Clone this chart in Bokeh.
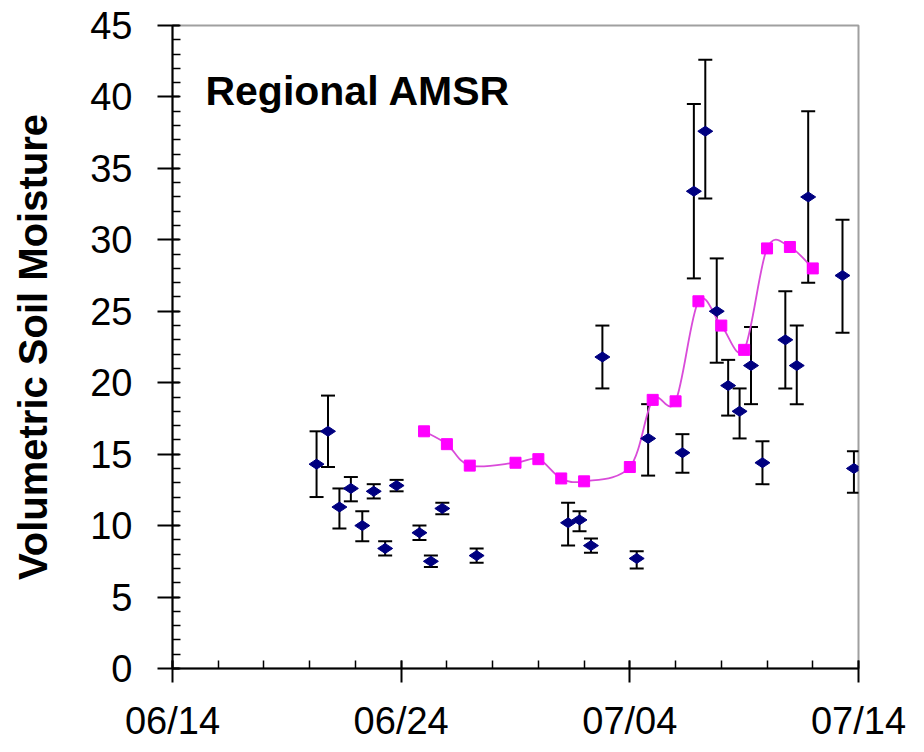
import numpy as np
import pandas as pd
from bokeh.plotting import figure
from bokeh.models import (ColumnDataSource, Whisker, TeeHead, Range1d, FixedTicker,
                          SingleIntervalTicker, DatetimeTickFormatter, Label)
from bokeh.embed import file_html
from bokeh.resources import INLINE

# ---------------- data ----------------
start_date = "2002-06-14"
end_date = "2002-07-14"
x_tick_dates = ["2002-06-14", "2002-06-24", "2002-07-04", "2002-07-14"]
minor_tick_step_days = 2

# point observations (days after 06/14), soil moisture, error bar low/high
point_days = [6.3, 6.8, 7.3, 7.8, 8.3, 8.8, 9.3, 9.8, 10.8, 11.3, 11.8, 13.3,
              17.3, 17.8, 18.3, 18.8, 20.3, 20.8, 22.3, 22.8, 23.3, 23.8,
              24.3, 24.8, 25.3, 25.8, 26.8, 27.3, 27.8, 29.3, 29.8]
point_sm = [14.3, 16.6, 11.3, 12.6, 10.0, 12.4, 8.4, 12.8, 9.5, 7.5, 11.2, 7.9,
            10.2, 10.4, 8.6, 21.8, 7.7, 16.1, 15.1, 33.4, 37.6, 25.0,
            19.8, 18.0, 21.2, 14.4, 23.0, 21.2, 33.0, 27.5, 14.0]
point_low = [12.0, 14.1, 9.8, 11.7, 8.9, 11.9, 7.9, 12.4, 9.0, 7.1, 10.8, 7.4,
             8.6, 9.6, 8.1, 19.6, 7.0, 13.5, 13.7, 27.3, 32.9, 21.4,
             17.7, 16.1, 18.5, 12.9, 19.6, 18.5, 27.0, 23.5, 12.3]
point_high = [16.6, 19.1, 12.6, 13.4, 11.0, 12.9, 8.9, 13.2, 10.0, 7.9, 11.6, 8.4,
              11.6, 11.0, 9.1, 24.0, 8.2, 18.5, 16.4, 39.5, 42.6, 28.7,
              21.6, 19.6, 23.9, 15.9, 26.4, 24.0, 39.0, 31.4, 15.2]

# regional AMSR series
regional_days = [11, 12, 13, 15, 16, 17, 18, 20, 21, 22, 23, 24, 25, 26, 27, 28]
regional_sm = [16.6, 15.7, 14.2, 14.4, 14.65, 13.3, 13.1, 14.1, 18.8, 18.7,
               25.7, 24.0, 22.3, 29.4, 29.5, 28.0]

y_label = "Volumetric Soil Moisture"
panel_title = "Regional AMSR"

# ---------------- helpers ----------------
t0 = pd.Timestamp(start_date)
epoch = pd.Timestamp("1970-01-01")


def to_ms(days):
    return np.array([(t0 + pd.Timedelta(days=float(d)) - epoch).total_seconds() * 1000.0
                     for d in days])


def date_ms(s):
    return (pd.Timestamp(s) - epoch).total_seconds() * 1000.0


x_start = date_ms(start_date)
x_end = date_ms(end_date)
n_days = int(round((x_end - x_start) / 86400000.0))

FONT = "Liberation Sans"

p = figure(width=908, height=744, output_backend="svg", toolbar_location=None,
           x_axis_type="datetime",
           x_range=Range1d(x_start, x_end), y_range=Range1d(0, 45))
p.min_border_left = 172
p.min_border_right = 50
p.min_border_top = 25
p.min_border_bottom = 74
p.background_fill_color = "white"
p.border_fill_color = "white"
p.outline_line_color = "#a0a0a0"
p.outline_line_width = 2
p.xgrid.visible = False
p.ygrid.visible = False

# x axis
p.xaxis.ticker = FixedTicker(ticks=[date_ms(d) for d in x_tick_dates],
                             minor_ticks=list(to_ms(range(0, n_days + 1, minor_tick_step_days))))
p.xaxis.formatter = DatetimeTickFormatter(days="%m/%d", months="%m/%d", hours="%m/%d",
                                          years="%m/%d")
p.xaxis.major_tick_out = 14
p.xaxis.major_tick_in = 8
p.xaxis.minor_tick_out = 0
p.xaxis.minor_tick_in = 8
p.xaxis.major_label_standoff = 17
# y axis
p.yaxis.ticker = SingleIntervalTicker(interval=5, num_minor_ticks=5)
p.yaxis.major_tick_out = 15
p.yaxis.major_tick_in = 7
p.yaxis.minor_tick_out = 0
p.yaxis.minor_tick_in = 8
p.yaxis.major_label_standoff = 25
p.yaxis.axis_label = y_label
p.yaxis.axis_label_text_font = FONT
p.yaxis.axis_label_text_font_style = "bold"
p.yaxis.axis_label_text_font_size = "40px"
p.yaxis.axis_label_text_color = "black"
p.yaxis.axis_label_standoff = 32

for ax in (p.xaxis, p.yaxis):
    ax.axis_line_color = "black"
    ax.axis_line_width = 2
    ax.major_tick_line_color = "black"
    ax.major_tick_line_width = 2
    ax.minor_tick_line_color = "black"
    ax.minor_tick_line_width = 1.5
    ax.major_label_text_font = FONT
    ax.major_label_text_font_size = "38px"
    ax.major_label_text_color = "black"

# ---------------- smoothed regional line (Catmull-Rom -> Bezier) ----------------
rx = to_ms(regional_days)
ry = np.array(regional_sm, dtype=float)
n = len(rx)
px = np.concatenate([[rx[0]], rx, [rx[-1]]])
py = np.concatenate([[ry[0]], ry, [ry[-1]]])
x0, y0, x1, y1, cx0, cy0, cx1, cy1 = [], [], [], [], [], [], [], []
for i in range(n - 1):
    P0x, P0y = px[i], py[i]
    P1x, P1y = px[i + 1], py[i + 1]
    P2x, P2y = px[i + 2], py[i + 2]
    P3x, P3y = px[i + 3], py[i + 3]
    x0.append(P1x); y0.append(P1y)
    x1.append(P2x); y1.append(P2y)
    cx0.append(P1x + (P2x - P0x) / 6.0); cy0.append(P1y + (P2y - P0y) / 6.0)
    cx1.append(P2x - (P3x - P1x) / 6.0); cy1.append(P2y - (P3y - P1y) / 6.0)
p.bezier(x0=x0, y0=y0, x1=x1, y1=y1, cx0=cx0, cy0=cy0, cx1=cx1, cy1=cy1,
         line_color="#d94bd9", line_width=1.8)

# ---------------- point observations with error bars ----------------
src = ColumnDataSource(dict(x=to_ms(point_days), y=point_sm, low=point_low, high=point_high))
whisk = Whisker(base="x", upper="high", lower="low", source=src, dimension="height",
                line_color="black", line_width=2,
                upper_head=TeeHead(size=14, line_color="black", line_width=2),
                lower_head=TeeHead(size=14, line_color="black", line_width=2))
p.add_layout(whisk)
p.scatter("x", "y", source=src, marker="diamond", size=15, angle=np.pi / 2,
          fill_color="#000080", line_color="#000080")

rsrc = ColumnDataSource(dict(x=rx, y=ry))
p.scatter("x", "y", source=rsrc, marker="square", size=11,
          fill_color="#ff00ff", line_color="#ff00ff")

# ---------------- panel title ----------------
lab = Label(x=x_start + 1.44 * 86400000.0, y=40.4, text=panel_title,
            text_font=FONT, text_font_style="bold", text_font_size="41px",
            text_color="black", text_baseline="alphabetic", text_align="left")
p.add_layout(lab)

open("out.html", "w").write(file_html(p, INLINE))
